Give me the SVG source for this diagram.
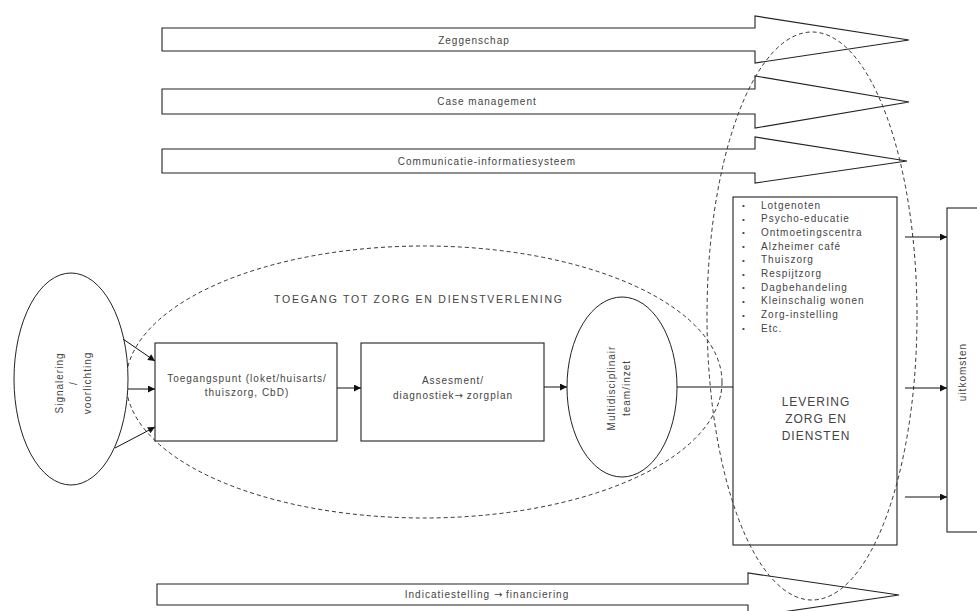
<svg xmlns="http://www.w3.org/2000/svg" width="977" height="611" viewBox="0 0 977 611">
<defs>
<marker id="ah" viewBox="0 0 10 10" refX="10" refY="5" markerWidth="9" markerHeight="7" orient="auto" markerUnits="userSpaceOnUse"><path d="M0,0 L10,5 L0,10 z" fill="#111"/></marker>
</defs>
<style>
.band{fill:#fff;stroke:#222;stroke-width:1.1}
.box{fill:#fff;stroke:#222;stroke-width:1.1}
.ell{fill:#fff;stroke:#222;stroke-width:1}
.dash{fill:none;stroke:#333;stroke-width:1;stroke-dasharray:4 3}
.conn{fill:none;stroke:#111;stroke-width:1;marker-end:url(#ah)}
.line{fill:none;stroke:#111;stroke-width:1}
.t{font-family:"Liberation Sans",Arial,sans-serif;fill:#444;font-size:10px;letter-spacing:1px;text-anchor:middle}
.l{font-family:"Liberation Sans",Arial,sans-serif;fill:#444;font-size:10px;letter-spacing:1px}
.b{font-family:"Liberation Sans",Arial,sans-serif;fill:#444;font-size:8px}
.arr{font-family:"DejaVu Sans",sans-serif;font-size:10px;letter-spacing:0}
</style>
<rect width="977" height="611" fill="#fff"/>

<g id="band-zeggenschap">
<polygon class="band" points="162,28 755,28 755,16 909,40 755,63 755,51 162,51"/>
<text class="t" x="474" y="44">Zeggenschap</text>
</g>
<g id="band-casemanagement">
<polygon class="band" points="162,89 755,89 755,76 909,102 755,128 755,114 162,114"/>
<text class="t" x="487" y="105">Case management</text>
</g>
<g id="band-communicatie">
<polygon class="band" points="162,149 755,149 755,137 907,161 755,183 755,173 162,173"/>
<text class="t" x="487" y="165">Communicatie-informatiesysteem</text>
</g>
<g id="band-indicatiestelling">
<polygon class="band" points="157,584 748,584 748,573 899,595 748,617 748,605 157,605"/>
<text class="t" x="487" y="598">Indicatiestelling <tspan class="arr">→</tspan> financiering</text>
</g>

<g id="toegang">
<ellipse class="dash" cx="424" cy="382" rx="298" ry="136"/>
<text class="t" x="418" y="303" style="font-size:10.5px;letter-spacing:0" textLength="288" lengthAdjust="spacing">TOEGANG TOT ZORG EN DIENSTVERLENING</text>
</g>

<g id="signalering">
<ellipse class="ell" cx="71" cy="379" rx="57" ry="106"/>
<text class="t" transform="translate(63,383) rotate(-90)">Signalering</text>
<text class="t" transform="translate(77,383) rotate(-90)">/</text>
<text class="t" transform="translate(91,383) rotate(-90)">voorlichting</text>
</g>

<g id="toegangspunt">
<rect class="box" x="155" y="343" width="182" height="98"/>
<text class="t" x="247" y="382">Toegangspunt (loket/huisarts/</text>
<text class="t" x="247" y="396">thuiszorg, CbD)</text>
</g>

<g id="assessment">
<rect class="box" x="361" y="343" width="183" height="98"/>
<text class="t" x="453" y="384">Assesment/</text>
<text class="t" x="453" y="399">diagnostiek<tspan class="arr">→</tspan> zorgplan</text>
</g>

<g id="multidisciplinair">
<ellipse class="ell" cx="622" cy="387" rx="55" ry="90"/>
<text class="t" transform="translate(615,388) rotate(-90)">Multidisciplinair</text>
<text class="t" transform="translate(630,388) rotate(-90)">team/inzet</text>
</g>

<g id="levering">
<rect x="733" y="197" width="164" height="348" fill="none" stroke="#222" stroke-width="1.1"/>
<g class="b">
<text x="742" y="208">•</text><text x="742" y="221.7">•</text><text x="742" y="235.4">•</text><text x="742" y="249.1">•</text><text x="742" y="262.8">•</text>
<text x="742" y="276.5">•</text><text x="742" y="290.2">•</text><text x="742" y="303.9">•</text><text x="742" y="317.6">•</text><text x="742" y="331.3">•</text>
</g>
<g class="l">
<text x="761" y="208.5">Lotgenoten</text>
<text x="761" y="222.2">Psycho-educatie</text>
<text x="761" y="235.9">Ontmoetingscentra</text>
<text x="761" y="249.6">Alzheimer café</text>
<text x="761" y="263.3">Thuiszorg</text>
<text x="761" y="277">Respijtzorg</text>
<text x="761" y="290.7">Dagbehandeling</text>
<text x="761" y="304.4">Kleinschalig wonen</text>
<text x="761" y="318.1">Zorg-instelling</text>
<text x="761" y="331.8">Etc.</text>
</g>
<text class="t" x="816" y="406" style="font-size:12px">LEVERING</text>
<text class="t" x="816" y="423" style="font-size:12px">ZORG EN</text>
<text class="t" x="816" y="440" style="font-size:12px">DIENSTEN</text>
</g>

<g id="uitkomsten">
<rect x="947" y="208" width="40" height="324" fill="#fff" stroke="#222" stroke-width="1.1"/>
<text class="t" transform="translate(966,372) rotate(-90)">uitkomsten</text>
</g>

<g id="levering-ellipse">
<ellipse class="dash" cx="812" cy="316" rx="105" ry="284"/>
</g>

<g id="connectors">
<line class="conn" x1="123" y1="339" x2="155" y2="361"/>
<line class="conn" x1="128" y1="389" x2="155" y2="389"/>
<line class="conn" x1="115" y1="448" x2="155" y2="427"/>
<line class="conn" x1="337" y1="388" x2="361" y2="388"/>
<line class="conn" x1="544" y1="387" x2="567" y2="387"/>
<line class="line" x1="677" y1="387" x2="733" y2="387"/>
<line class="conn" x1="905" y1="237" x2="947" y2="237"/>
<line class="conn" x1="905" y1="388" x2="947" y2="388"/>
<line class="conn" x1="905" y1="497" x2="947" y2="497"/>
</g>
</svg>
